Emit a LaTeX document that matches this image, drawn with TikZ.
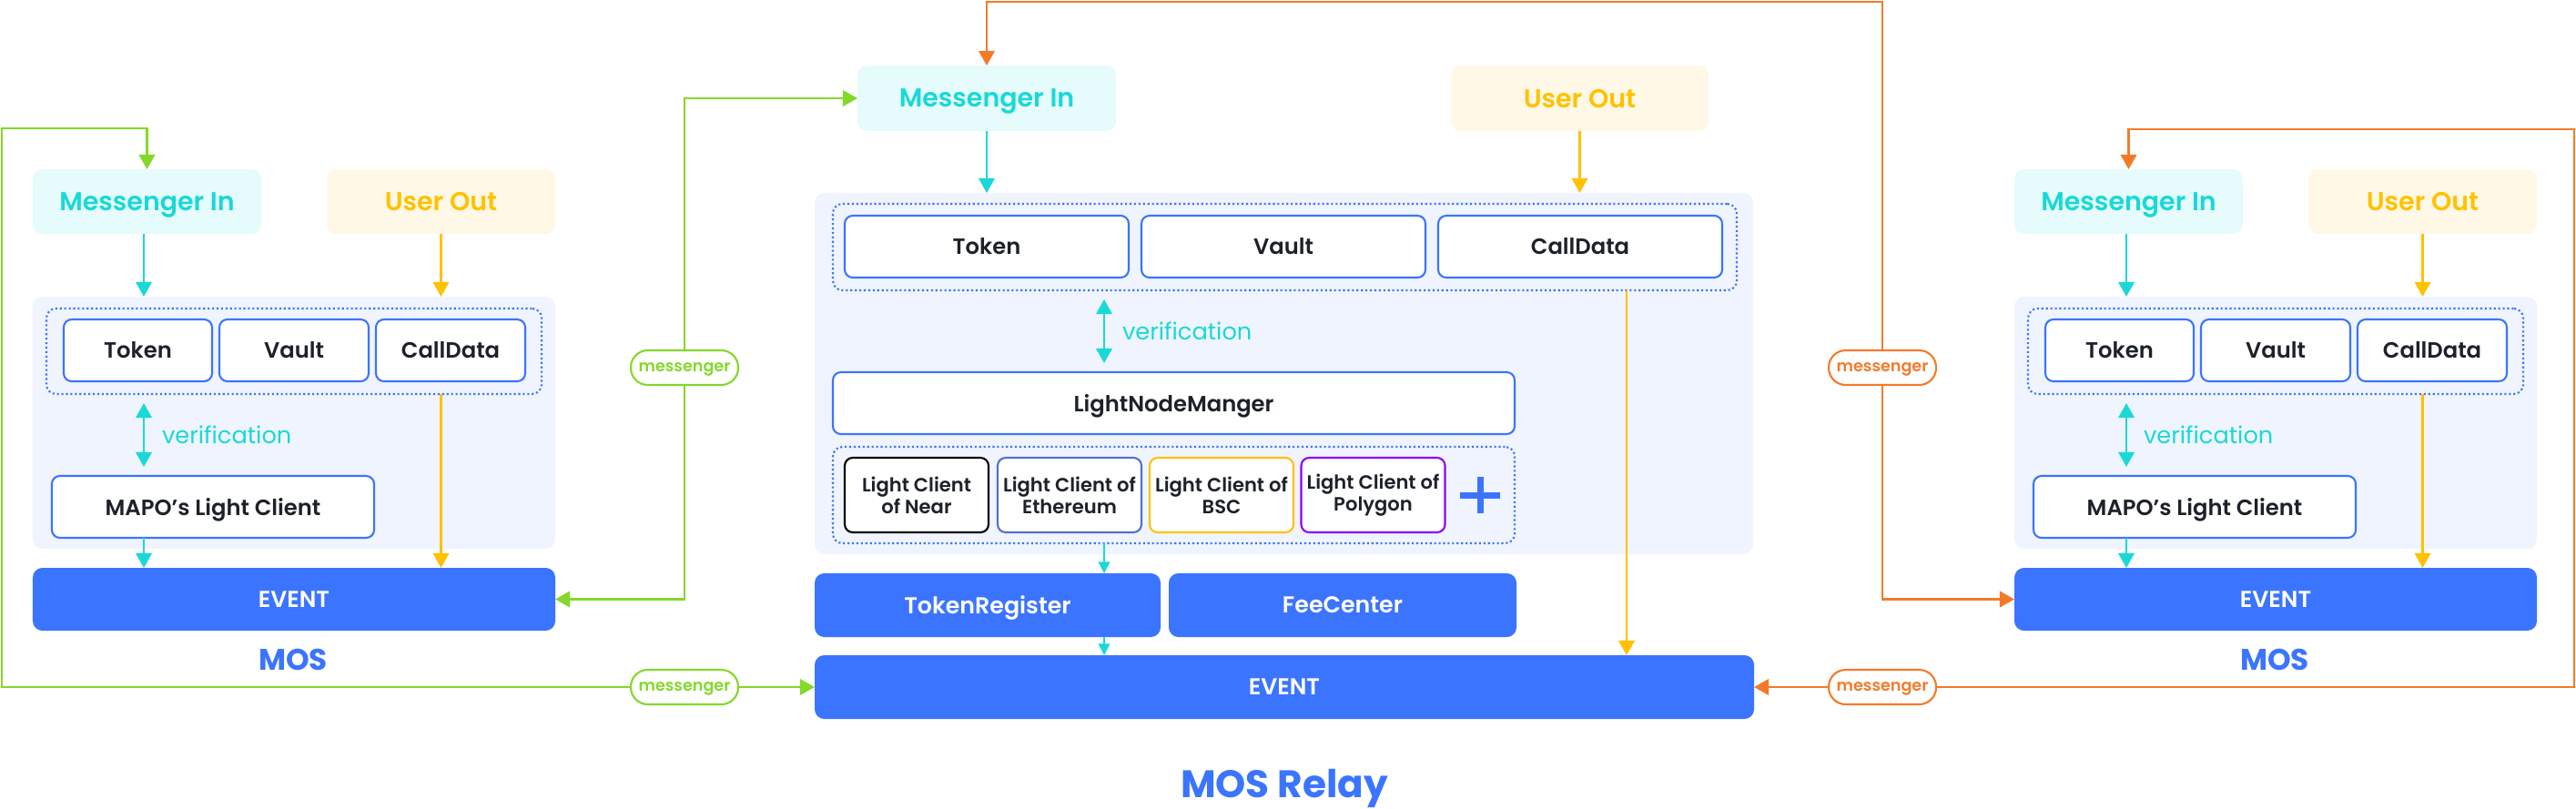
\documentclass[tikz,border=0pt]{standalone}
\usepackage{fontspec}
\setmainfont{Poppins}
\newfontfamily\semi{Poppins SemiBold}
\usetikzlibrary{arrows.meta}
\definecolor{mblue}{HTML}{3B74FE}
\definecolor{panel}{HTML}{EFF4FE}
\definecolor{mcyan}{HTML}{1AD8D8}
\definecolor{cyanbg}{HTML}{E6FBFB}
\definecolor{myellow}{HTML}{FFC100}
\definecolor{yellowbg}{HTML}{FFF8E6}
\definecolor{mgreen}{HTML}{84D82A}
\definecolor{morange}{HTML}{F47A2A}
\definecolor{mtext}{HTML}{1D2129}
\definecolor{eth}{HTML}{5470C6}
\definecolor{poly}{HTML}{8A00FF}

\begin{document}
\begin{tikzpicture}[>={Triangle[length=4.6pt,width=5pt]}]
\tikzstyle{every node}=[inner sep=0pt, outer sep=0pt]
\tikzstyle{inbox}=[rounded corners=3pt, minimum height=0.71cm, text depth=0pt,
                   font=\semi\fontsize{8.1}{9}\selectfont]
\tikzstyle{msgin}=[inbox, fill=cyanbg, text=mcyan]
\tikzstyle{usrout}=[inbox, fill=yellowbg, text=myellow]
\tikzstyle{panelbox}=[rounded corners=3pt, fill=panel]
\tikzstyle{dotbox}=[draw=mblue, line width=0.6pt, dash pattern=on 0.6pt off 0.8pt,
                    rounded corners=3pt]
\tikzstyle{cbox}=[draw=mblue, fill=white, line width=0.6pt, rounded corners=2.5pt,
                  minimum height=0.68cm, text=mtext, text depth=0pt,
                  font=\semi\fontsize{6.9}{8}\selectfont]
\tikzstyle{evbox}=[fill=mblue, rounded corners=3pt, text=white, minimum height=0.69cm,
                   text depth=0pt, font=\semi\fontsize{7.2}{8}\selectfont]
\tikzstyle{lcbox}=[draw, fill=white, line width=0.6pt, rounded corners=2.5pt,
                   minimum width=1.58cm, minimum height=0.82cm, align=center,
                   text=mtext, font=\semi\fontsize{6}{6.9}\selectfont]
\tikzstyle{pill}=[draw, fill=white, line width=0.6pt, rounded corners=5.3pt,
                  minimum width=1.18cm, minimum height=0.38cm, text depth=0pt,
                  font=\semi\fontsize{5}{6}\selectfont]
\tikzstyle{verif}=[anchor=west, text=mcyan, font=\fontsize{7.3}{8}\selectfont]
\tikzstyle{title}=[anchor=base, text=mblue, font=\bfseries\fontsize{9.3}{10}\selectfont]
\tikzstyle{cline}=[mcyan, line width=0.6pt]
\tikzstyle{yline}=[myellow, line width=0.6pt]
\tikzstyle{gline}=[mgreen, line width=0.7pt]
\tikzstyle{oline}=[morange, line width=0.7pt]
\tikzstyle{tiny}=[mcyan, line width=0.4pt, >={Triangle[length=3.6pt,width=3.6pt]}]

\fill[white] (0,0) rectangle (28.3,-8.88);
\useasboundingbox (0,0) rectangle (28.3,-8.88);

% left MOS
\node[msgin, minimum width=2.51cm] (minL) at (1.615,-2.215) {Messenger In};
\node[usrout, minimum width=2.51cm] (uoL) at (4.845,-2.215) {User Out};
\node[panelbox, minimum width=5.74cm, minimum height=2.77cm] (panL) at (3.23,-4.645) {};
\node[dotbox, minimum width=5.44cm, minimum height=0.94cm] (dotL) at (3.23,-3.86) {};
\node[cbox, minimum width=1.63cm] (tokL) at (1.515,-3.85) {Token};
\node[cbox, minimum width=1.64cm] (vauL) at (3.23,-3.85) {Vault};
\node[cbox, minimum width=1.64cm] (cdL) at (4.95,-3.85) {CallData};
\node[verif] (verL) at (1.78,-4.78) {verification};
\node[cbox, minimum width=3.54cm] (mapoL) at (2.34,-5.57) {MAPO’s Light Client};
\node[evbox, minimum width=5.74cm] (evL) at (3.23,-6.585) {EVENT};
\node[title] (mosL) at (3.22,-7.36) {MOS};

% MOS relay
\node[msgin, minimum width=2.84cm, minimum height=0.72cm] (minM) at (10.84,-1.08) {Messenger In};
\node[usrout, minimum width=2.83cm, minimum height=0.72cm] (uoM) at (17.355,-1.08) {User Out};
\node[panelbox, minimum width=10.31cm, minimum height=3.97cm] (panM) at (14.105,-4.105) {};
\node[dotbox, minimum width=9.93cm, minimum height=0.95cm] (dotM) at (14.115,-2.715) {};
\node[cbox, minimum width=3.12cm] (tokM) at (10.84,-2.71) {Token};
\node[cbox, minimum width=3.12cm] (vauM) at (14.10,-2.71) {Vault};
\node[cbox, minimum width=3.12cm] (cdM) at (17.36,-2.71) {CallData};
\node[verif] (verM) at (12.33,-3.64) {verification};
\node[cbox, minimum width=7.49cm] (lnm) at (12.895,-4.43) {LightNodeManger};
\node[dotbox, minimum width=7.49cm, minimum height=1.06cm] (dotLC) at (12.895,-5.44) {};
\node[lcbox, draw=black] (lcNear) at (10.07,-5.44) {Light Client\\of Near};
\node[lcbox, draw=eth] (lcEth) at (11.75,-5.44) {Light Client of\\Ethereum};
\node[lcbox, draw=myellow] (lcBsc) at (13.42,-5.44) {Light Client of\\BSC};
\node[lcbox, draw=poly] (lcPoly) at (15.085,-5.44) {Light Client of\\Polygon};
\draw[mblue, line width=2pt] (16.26,-5.24) -- (16.26,-5.64) (16.04,-5.44) -- (16.48,-5.44);
\node[evbox, minimum width=3.80cm, minimum height=0.70cm] (tokReg) at (10.85,-6.65) {TokenRegister};
\node[evbox, minimum width=3.82cm, minimum height=0.70cm] (feeC) at (14.75,-6.65) {FeeCenter};
\node[evbox, minimum width=10.32cm, minimum height=0.70cm] (evM) at (14.11,-7.55) {EVENT};
\node[title, font=\bfseries\fontsize{12}{13}\selectfont] (relay) at (14.11,-8.76) {MOS Relay};

% right MOS
\node[msgin, minimum width=2.51cm] (minR) at (23.385,-2.215) {Messenger In};
\node[usrout, minimum width=2.51cm] (uoR) at (26.615,-2.215) {User Out};
\node[panelbox, minimum width=5.74cm, minimum height=2.77cm] (panR) at (25.0,-4.645) {};
\node[dotbox, minimum width=5.44cm, minimum height=0.94cm] (dotR) at (25.0,-3.86) {};
\node[cbox, minimum width=1.63cm] (tokR) at (23.285,-3.85) {Token};
\node[cbox, minimum width=1.64cm] (vauR) at (25.0,-3.85) {Vault};
\node[cbox, minimum width=1.64cm] (cdR) at (26.72,-3.85) {CallData};
\node[verif] (verR) at (23.55,-4.78) {verification};
\node[cbox, minimum width=3.54cm] (mapoR) at (24.11,-5.57) {MAPO’s Light Client};
\node[evbox, minimum width=5.74cm] (evR) at (25.0,-6.585) {EVENT};
\node[title] (mosR) at (24.99,-7.36) {MOS};

% messenger pills
\node[pill, draw=mgreen, text=mgreen] (pillG1) at (7.52,-4.04) {messenger};
\node[pill, draw=mgreen, text=mgreen] (pillG2) at (7.52,-7.55) {messenger};
\node[pill, draw=morange, text=morange] (pillO1) at (20.68,-4.04) {messenger};
\node[pill, draw=morange, text=morange] (pillO2) at (20.68,-7.55) {messenger};

% inner flows
\coordinate (xL) at (1.58,0);
\coordinate (xM) at (12.13,0);
\coordinate (xC) at (17.87,0);
\coordinate (xR) at (23.36,0);
\draw[cline,->] (xL |- minL.south) -- (xL |- panL.north);
\draw[yline,->] (uoL.south) -- (uoL.south |- panL.north);
\draw[cline,<->,shorten <=0.1cm,shorten >=0.1cm] (xL |- dotL.south) -- (xL |- mapoL.north);
\draw[cline,->] (xL |- mapoL.south) -- (xL |- evL.north);
\draw[yline,->] (uoL.south |- dotL.south) -- (uoL.south |- evL.north);

\draw[cline,->] (minM.south) -- (minM.south |- panM.north);
\draw[yline,->] (uoM.south) -- (uoM.south |- panM.north);
\draw[cline,<->,shorten <=0.1cm,shorten >=0.1cm] (xM |- dotM.south) -- (xM |- lnm.north);
\draw[tiny,->] (xM |- dotLC.south) -- (xM |- tokReg.north);
\draw[tiny,->] (xM |- tokReg.south) -- (xM |- evM.north);
\draw[yline,->] (xC |- dotM.south) -- (xC |- evM.north);

\draw[cline,->] (xR |- minR.south) -- (xR |- panR.north);
\draw[yline,->] (uoR.south) -- (uoR.south |- panR.north);
\draw[cline,<->,shorten <=0.1cm,shorten >=0.1cm] (xR |- dotR.south) -- (xR |- mapoR.north);
\draw[cline,->] (xR |- mapoR.south) -- (xR |- evR.north);
\draw[yline,->] (uoR.south |- dotR.south) -- (uoR.south |- evR.north);

% messenger loops
\coordinate (gCorner) at (0.02,-1.41);
\coordinate (oTop) at (10.84,-0.02);
\coordinate (oCorner) at (28.28,-1.42);
\draw[gline,->] (pillG1.north) |- (minM.west);
\draw[gline,->] (pillG1.south) |- (evL.east);
\draw[gline,->] (pillG2.west) -| (gCorner) -| (minL.north);
\draw[gline,->] (pillG2.east) -- (evM.west);
\draw[oline,->] (pillO1.north) |- (oTop) -- (minM.north);
\draw[oline,->] (pillO1.south) |- (evR.west);
\draw[oline,->] (pillO2.east) -| (oCorner) -| (minR.north);
\draw[oline,->] (pillO2.west) -- (evM.east);
\end{tikzpicture}
\end{document}
